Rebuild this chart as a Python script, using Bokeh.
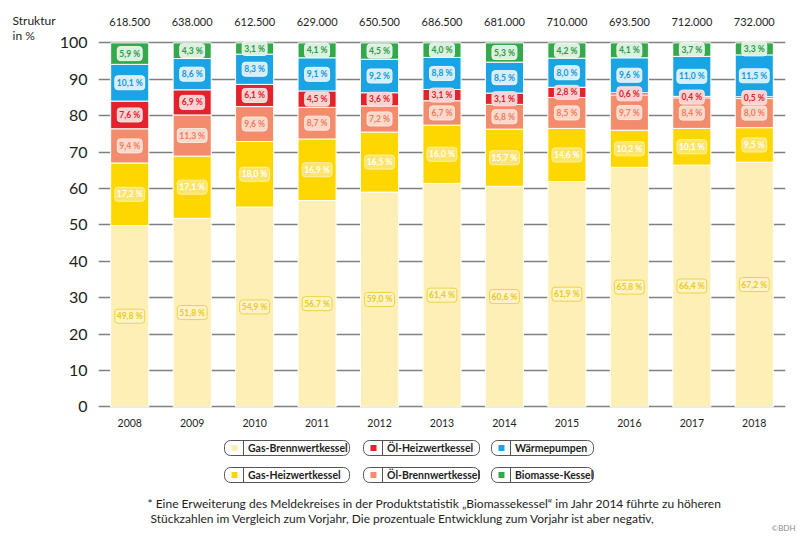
from bokeh.plotting import figure
from bokeh.models import ColumnDataSource, FactorRange, Range1d, FixedTicker
from bokeh.layouts import column, row
from bokeh.embed import file_html
from bokeh.resources import INLINE
from bokeh.core.properties import value

# ---------------- data ----------------
years = ["2008", "2009", "2010", "2011", "2012", "2013", "2014", "2015", "2016", "2017", "2018"]
totals = [618500, 638000, 612500, 629000, 650500, 686500, 681000, 710000, 693500, 712000, 732000]
gas_brennwert = [49.8, 51.8, 54.9, 56.7, 59.0, 61.4, 60.6, 61.9, 65.8, 66.4, 67.2]
gas_heizwert = [17.2, 17.1, 18.0, 16.9, 16.5, 16.0, 15.7, 14.6, 10.2, 10.1, 9.5]
oel_brennwert = [9.4, 11.3, 9.6, 8.7, 7.2, 6.7, 6.8, 8.5, 9.7, 8.4, 8.0]
oel_heizwert = [7.6, 6.9, 6.1, 4.5, 3.6, 3.1, 3.1, 2.8, 0.6, 0.4, 0.5]
waermepumpen = [10.1, 8.6, 8.3, 9.1, 9.2, 8.8, 8.5, 8.0, 9.6, 11.0, 11.5]
biomasse = [5.9, 4.3, 3.1, 4.1, 4.5, 4.0, 5.3, 4.2, 4.1, 3.7, 3.3]
series_names = ["Gas-Brennwertkessel", "Gas-Heizwertkessel", "Öl-Brennwertkessel",
                "Öl-Heizwertkessel", "Wärmepumpen", "Biomasse-Kessel"]
y_ticks = [0, 10, 20, 30, 40, 50, 60, 70, 80, 90, 100]
y_title = ["Struktur", "in %"]
footnote_lines = [
    "* Eine Erweiterung des Meldekreises in der Produktstatistik \u201eBiomassekessel\u201c im Jahr 2014 führte zu höheren",
    "Stückzahlen im Vergleich zum Vorjahr, Die prozentuale Entwicklung zum Vorjahr ist aber negativ,",
]
credit = "©BDH"

# ---------------- styles ----------------
series_values = [gas_brennwert, gas_heizwert, oel_brennwert, oel_heizwert, waermepumpen, biomasse]
keys = ["gbw", "ghw", "obw", "ohw", "wp", "bio"]
colors = ["#fdefb6", "#ffd700", "#f28c6c", "#e3222b", "#1ba4e3", "#34a94c"]
lbl_text = ["#eccb1c", "#ffffff", "#ee7d5e", "#d81e27", "#1898d6", "#2a9a44"]
lbl_bg = ["#fdf3c8", "#fde46a", "#fcd8cb", "#f9d3d4", "#d6eef9", "#dcf0df"]
lbl_border = ["#f2d340", "#fff2a8", "#fde8e0", "#f9e0e0", "#e8f6fc", "#eef8f0"]
FONT = "Lato"
DARK = "#1e1e1e"
LEFT_W = 56              # width of the small left panel holding the y title
BL, BR = 97 - LEFT_W, 18  # main frame borders (px)
Y0, Y1 = -1, 111.64

data = {"year": years}
for k, v in zip(keys, series_values):
    data[k] = v
src = ColumnDataSource(data)

p = figure(x_range=FactorRange(*years, range_padding=0), y_range=Range1d(Y0, Y1),
           width=803 - LEFT_W, height=436, output_backend="svg", toolbar_location=None,
           min_border_left=BL, min_border_right=BR, min_border_top=0, min_border_bottom=26)
p.outline_line_color = None
p.background_fill_color = "white"

p.vbar_stack(keys, x="year", width=0.61, source=src, color=colors,
             line_color="white", line_width=1)

# percentage labels inside segments
lx, ly, lt, ltc, lbg, lbc = [], [], [], [], [], []
for i, y in enumerate(years):
    base = 0.0
    for s, vals in enumerate(series_values):
        v = vals[i]
        lx.append(y)
        ly.append(base + v / 2)
        lt.append(f"{v:.1f}".replace(".", ",") + " %")
        ltc.append(lbl_text[s])
        lbg.append(lbl_bg[s])
        lbc.append(lbl_border[s])
        base += v
lsrc = ColumnDataSource(dict(x=lx, y=ly, t=lt, tc=ltc, bg=lbg, bc=lbc))
p.text(x="x", y="y", text="t", source=lsrc, text_color="tc", text_align="center",
       text_baseline="middle", text_font=value(FONT), text_font_size="8.5px",
       text_font_style="bold",
       background_fill_color="bg", border_line_color="bc", border_line_width=1,
       padding=2, border_radius=3)

# totals above the bars
tot_txt = [f"{t:,}".replace(",", ".") for t in totals]
tsrc = ColumnDataSource(dict(x=years, y=[105.6] * len(years), t=tot_txt))
p.text(x="x", y="y", text="t", source=tsrc, text_align="center", text_baseline="middle",
       text_font=value(FONT), text_font_size="11px", text_color=DARK)

# axes and grid
p.yaxis.ticker = FixedTicker(ticks=y_ticks)
p.yaxis.axis_line_color = None
p.yaxis.major_tick_line_color = None
p.yaxis.minor_tick_line_color = None
p.yaxis.major_tick_out = 0
p.yaxis.major_label_standoff = 11
p.yaxis.major_label_text_font = FONT
p.yaxis.major_label_text_font_size = "16px"
p.yaxis.major_label_text_color = DARK

p.xaxis.axis_line_color = None
p.xaxis.major_tick_line_color = None
p.xaxis.major_tick_out = 0
p.xaxis.major_label_standoff = 8
p.xaxis.major_label_text_font = FONT
p.xaxis.major_label_text_font_size = "10.5px"
p.xaxis.major_label_text_color = DARK

p.xgrid.grid_line_color = None
p.ygrid.ticker = FixedTicker(ticks=y_ticks)
p.ygrid.grid_line_color = "#808080"
p.ygrid.grid_line_width = 1.5

# ---------------- small left panel: y title ----------------
yt = figure(width=LEFT_W, height=436, x_range=Range1d(0, LEFT_W), y_range=Range1d(Y0, Y1),
            output_backend="svg", toolbar_location=None, x_axis_type=None, y_axis_type=None,
            min_border_left=0, min_border_right=0, min_border_top=0, min_border_bottom=26)
yt.outline_line_color = None
yt.grid.visible = False
yt.text(x=[12, 12], y=[106.2, 102.1], text=y_title, text_baseline="middle",
        text_font=value(FONT), text_font_size="12px", text_color=DARK)

# ---------------- legend & footnote panel ----------------
lg = figure(width=803, height=101, x_range=Range1d(0, 803), y_range=Range1d(537, 436),
            output_backend="svg", toolbar_location=None, x_axis_type=None, y_axis_type=None,
            min_border=0)
lg.outline_line_color = None
lg.grid.visible = False

col_left = [224, 363, 491]
col_width = [125, 116, 102]
row_top = [440, 467]
box_h = 15
order = [(0, 0, 0), (1, 0, 1), (2, 1, 1), (3, 1, 0), (4, 2, 0), (5, 2, 1)]  # series, col, row
bl, br, bt, bb, sl, sr, st, sb, dx, dy0, dy1, tx, ty, tt, sc = ([] for _ in range(15))
for s, c, r in order:
    L, T = col_left[c], row_top[r]
    bl.append(L); br.append(L + col_width[c]); bt.append(T); bb.append(T + box_h)
    sl.append(L + 7); sr.append(L + 13); st.append(T + 4.5); sb.append(T + 10.5)
    sc.append(colors[s])
    dx.append(L + 19); dy0.append(T); dy1.append(T + box_h)
    tx.append(L + 23.5); ty.append(T + box_h / 2); tt.append(series_names[s])
lg.quad(left=bl, right=br, top=bt, bottom=bb, fill_color="white", line_color="#555555",
        line_width=1, border_radius=6)
lg.quad(left=sl, right=sr, top=st, bottom=sb, fill_color=sc, line_color=None)
lg.segment(x0=dx, y0=dy0, x1=dx, y1=dy1, line_color="#555555", line_width=1)
lg.text(x=tx, y=ty, text=tt, text_baseline="middle", text_font=value(FONT),
        text_font_size="10.5px", text_font_style="bold", text_color=DARK)

lg.text(x=[147, 150], y=[503, 518], text=footnote_lines, text_baseline="middle",
        text_font=value(FONT), text_font_size="12px", text_color=DARK)
lg.text(x=[795], y=[527], text=[credit], text_align="right", text_baseline="middle",
        text_font=value(FONT), text_font_size="8px", text_color="#8a8a8a")

layout = column(row(yt, p, spacing=0), lg, spacing=0)
open("out.html", "w").write(file_html(layout, INLINE))
